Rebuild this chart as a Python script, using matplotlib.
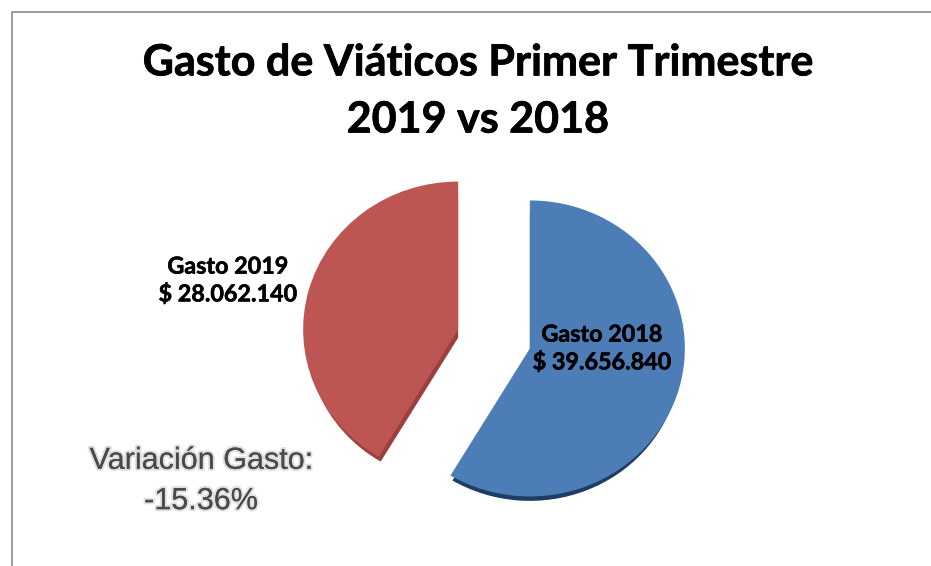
import matplotlib
matplotlib.use("Agg")
import matplotlib.pyplot as plt
import matplotlib.patheffects as pe

titulo = "Gasto de Viáticos Primer Trimestre\n2019 vs 2018"
gastos = [39656840, 28062140]
etiquetas = ["Gasto 2018\n$ 39.656.840", "Gasto 2019\n$ 28.062.140"]
variacion = "Variación Gasto:\n-15.36%"

col_top = ["#4D7DB7", "#BD5653"]
col_side = ["#1E3D63", "#9C403D"]
separa = [0.24, 0.24]
W, H = 931, 566
A, B = 155, 148  # radios de la elipse en pixeles

fig = plt.figure(figsize=(W/100, H/100), dpi=100)

# marco gris de fondo
marco = fig.add_axes([0, 0, 1, 1])
marco.set_xlim(0, W); marco.set_ylim(H, 0); marco.axis("off")
marco.plot([12, 12, W], [H, 12, 12], color="#8C8C8C", lw=1.2)

# ejes de la torta, centro en (494,339)
cx, cy = 494, 339
ax = fig.add_axes([(cx-A*1.5)/W, 1-(cy+B*1.5)/H, 3*A/W, 3*B/H])
# torta oscura un poco mas chica y mas abajo, hace de costado 3D
ax.pie(gastos, colors=col_side, startangle=90, counterclock=False,
       explode=separa, center=(0, -0.055), radius=0.975, wedgeprops={"linewidth": 0})
ax.pie(gastos, colors=col_top, startangle=90, counterclock=False,
       explode=separa, wedgeprops={"linewidth": 0})
ax.set_aspect("auto")
ax.set_xlim(-1.5, 1.5); ax.set_ylim(-1.5, 1.5)
ax.patch.set_alpha(0)

ax_txt = fig.add_axes([0, 0, 1, 1])
ax_txt.set_xlim(0, W); ax_txt.set_ylim(H, 0); ax_txt.axis("off")
ax_txt.text(478, 91, titulo, ha="center", va="center", family="Lato",
            fontweight="bold", fontsize=31, color="black", linespacing=1.52,
            path_effects=[pe.withStroke(linewidth=0.5, foreground="black")])
ax_txt.text(602, 349, etiquetas[0], ha="center", va="center", family="Lato",
            fontweight="bold", fontsize=16.8, color="black", linespacing=1.4,
            path_effects=[pe.withStroke(linewidth=0.4, foreground="black")])
ax_txt.text(228, 281, etiquetas[1], ha="center", va="center", family="Lato",
            fontweight="bold", fontsize=16.8, color="black", linespacing=1.4,
            path_effects=[pe.withStroke(linewidth=0.4, foreground="black")])
ax_txt.text(201, 481, variacion, ha="center", va="center", family="Liberation Sans",
            fontsize=22, color="#4A4A4A", linespacing=1.45,
            path_effects=[pe.withStroke(linewidth=3, foreground="#E0E0E0"),
                          pe.SimpleLineShadow(offset=(1, -1.5), shadow_color="#888888", alpha=0.6),
                          pe.Normal()])

fig.savefig("out.png", dpi=100)
